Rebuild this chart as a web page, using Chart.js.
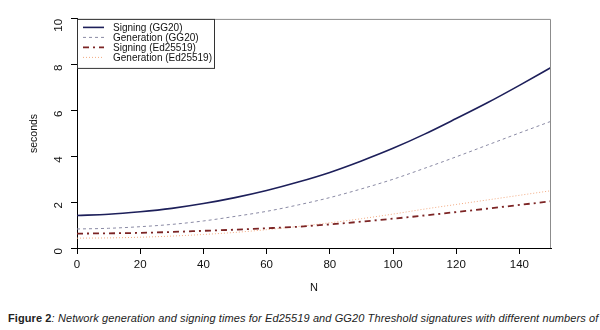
<!DOCTYPE html>
<html>
<head>
<meta charset="utf-8">
<script src="https://cdn.jsdelivr.net/npm/chart.js@4/dist/chart.umd.min.js"></script>
<style>
  body { margin: 0; background: #fff; width: 600px; height: 330px; overflow: hidden; position: relative; }
  #chart { position: absolute; left: 0; top: 0; }
  .caption { position: absolute; left: 8px; top: 312px; font-family: "Liberation Sans", Arial, sans-serif; font-size: 11px; letter-spacing: 0.1px; color: #222; white-space: nowrap; }
  .caption b { font-style: normal; }
  .caption i { font-style: italic; }
</style>
</head>
<body>
<canvas id="chart" width="600" height="300"></canvas>
<div class="caption"><b>Figure 2</b><i>: Network generation and signing times for Ed25519 and GG20 Threshold signatures with different numbers of</i></div>
<script>
// N (number of parties) and timings in seconds
const nValues = [0, 10, 20, 30, 40, 50, 60, 70, 80, 90, 100, 110, 120, 130, 140, 150];
const signingGG20 = [1.42, 1.47, 1.58, 1.73, 1.94, 2.2, 2.51, 2.88, 3.3, 3.8, 4.35, 4.97, 5.65, 6.35, 7.1, 7.88];
const generationGG20 = [0.83, 0.86, 0.93, 1.03, 1.18, 1.38, 1.6, 1.88, 2.2, 2.58, 3.0, 3.48, 3.98, 4.5, 5.02, 5.53];
const signingEd25519 = [0.63, 0.64, 0.66, 0.7, 0.75, 0.8, 0.86, 0.93, 1.03, 1.15, 1.28, 1.42, 1.57, 1.72, 1.88, 2.04];
const generationEd25519 = [0.43, 0.44, 0.47, 0.52, 0.59, 0.68, 0.8, 0.94, 1.1, 1.28, 1.48, 1.7, 1.9, 2.1, 2.3, 2.5];

const seriesLabels = ["Signing (GG20)", "Generation (GG20)", "Signing (Ed25519)", "Generation (Ed25519)"];
const xTicks = [0, 20, 40, 60, 80, 100, 120, 140];
const yTicks = [0, 2, 4, 6, 8, 10];

const toPoints = (vals) => vals.map((v, i) => ({ x: nValues[i], y: v }));

// box (gray top/right) + legend like R's legend("topleft")
const rFrame = {
  id: "rFrame",
  afterDatasetsDraw(chart) {
    const { ctx, chartArea: { left, top, right, bottom } } = chart;
    ctx.save();
    ctx.strokeStyle = "#8c8c8c";
    ctx.lineWidth = 1;
    ctx.beginPath();
    ctx.moveTo(left, top + 0.5);
    ctx.lineTo(right - 0.5, top + 0.5);
    ctx.lineTo(right - 0.5, bottom);
    ctx.stroke();

    // legend
    const bx = left + 0.5, by = top + 0.5, bw = 137, bh = 49;
    ctx.fillStyle = "#fff";
    ctx.fillRect(bx, by, bw, bh);
    ctx.strokeStyle = "#333";
    ctx.strokeRect(bx, by, bw, bh);
    ctx.font = "10px 'Liberation Sans', Arial, sans-serif";
    ctx.textBaseline = "middle";
    chart.data.datasets.forEach((ds, i) => {
      const y = top + 8.5 + i * 10;
      ctx.strokeStyle = ds.borderColor;
      ctx.lineWidth = ds.borderWidth;
      ctx.setLineDash(ds.borderDash || []);
      ctx.beginPath();
      ctx.moveTo(left + 6, y);
      ctx.lineTo(left + 27, y);
      ctx.stroke();
      ctx.setLineDash([]);
      ctx.fillStyle = "#111";
      ctx.fillText(ds.label, left + 36, y + 0.5);
    });
    ctx.restore();
  },
};

new Chart(document.getElementById("chart"), {
  type: "line",
  data: {
    datasets: [
      {
        label: seriesLabels[0],
        data: toPoints(signingGG20),
        borderColor: "#1d1f5a",
        borderWidth: 1.6,
      },
      {
        label: seriesLabels[1],
        data: toPoints(generationGG20),
        borderColor: "#8a8aa4",
        borderWidth: 1,
        borderDash: [3, 3],
      },
      {
        label: seriesLabels[2],
        data: toPoints(signingEd25519),
        borderColor: "#7c2424",
        borderWidth: 1.8,
        borderDash: [6, 4, 2, 4],
      },
      {
        label: seriesLabels[3],
        data: toPoints(generationEd25519),
        borderColor: "#f2aa80",
        borderWidth: 1,
        borderDash: [1, 2],
      },
    ],
  },
  options: {
    responsive: false,
    animation: false,
    layout: { padding: { left: 0, right: 49, top: 17, bottom: 0 } },
    elements: {
      point: { radius: 0 },
      line: { cubicInterpolationMode: "monotone", fill: false },
    },
    plugins: {
      legend: { display: false },
      tooltip: { enabled: false },
    },
    scales: {
      x: {
        type: "linear",
        min: 0,
        max: 150,
        afterBuildTicks: (scale) => { scale.ticks = xTicks.map((v) => ({ value: v })); },
        afterFit: (scale) => { scale.height = 52; },
        border: { display: true, color: "#000", width: 1 },
        grid: { display: true, drawOnChartArea: false, drawTicks: true, tickLength: 6, color: "#000" },
        ticks: {
          padding: 4,
          color: "#111",
          font: { family: "'Liberation Sans', Arial, sans-serif", size: 11.5 },
          maxRotation: 0,
        },
        title: {
          display: true,
          text: "N",
          color: "#111",
          font: { family: "'Liberation Sans', Arial, sans-serif", size: 11 },
          padding: { top: 0, bottom: 5 },
        },
      },
      y: {
        type: "linear",
        min: 0,
        max: 10,
        afterBuildTicks: (scale) => { scale.ticks = yTicks.map((v) => ({ value: v })); },
        afterFit: (scale) => { scale.width = 77; },
        border: { display: true, color: "#000", width: 1 },
        grid: { display: true, drawOnChartArea: false, drawTicks: true, tickLength: 6, color: "#000" },
        ticks: {
          padding: 12,
          color: "#111",
          minRotation: 90,
          maxRotation: 90,
          font: { family: "'Liberation Sans', Arial, sans-serif", size: 11.5 },
        },
        title: {
          display: true,
          text: "seconds",
          color: "#111",
          font: { family: "'Liberation Sans', Arial, sans-serif", size: 10.5 },
          padding: { top: 28, bottom: 0 },
        },
      },
    },
  },
  plugins: [rFrame],
});
</script>
</body>
</html>
